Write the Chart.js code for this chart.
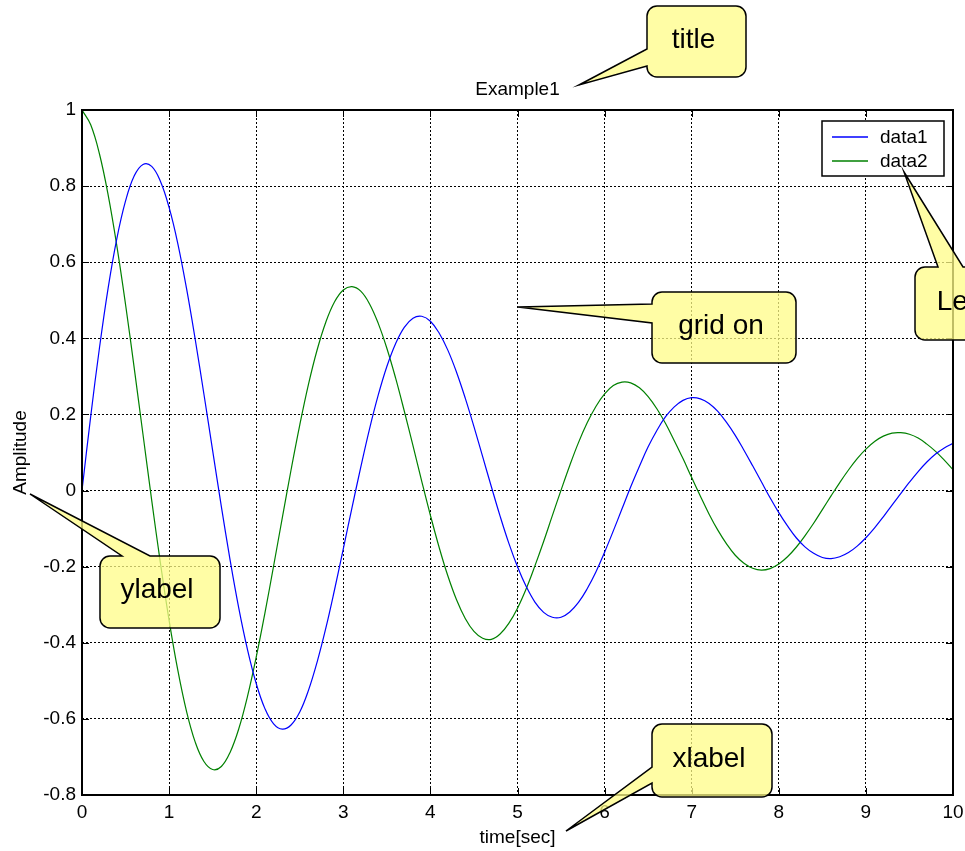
<!DOCTYPE html>
<html>
<head>
<meta charset="utf-8">
<title>Example1</title>
<script src="https://cdn.jsdelivr.net/npm/chart.js@4/dist/chart.umd.min.js"></script>
<style>
  html, body { margin: 0; padding: 0; background: #fff; }
  canvas { display: block; }
</style>
</head>
<body>
<canvas id="plot" width="965" height="851"></canvas>
<script>
const time = [
  0, 0.1, 0.2, 0.3, 0.4, 0.5, 0.6, 0.7, 0.8, 0.9,
  1, 1.1, 1.2, 1.3, 1.4, 1.5, 1.6, 1.7, 1.8, 1.9,
  2, 2.1, 2.2, 2.3, 2.4, 2.5, 2.6, 2.7, 2.8, 2.9,
  3, 3.1, 3.2, 3.3, 3.4, 3.5, 3.6, 3.7, 3.8, 3.9,
  4, 4.1, 4.2, 4.3, 4.4, 4.5, 4.6, 4.7, 4.8, 4.9,
  5, 5.1, 5.2, 5.3, 5.4, 5.5, 5.6, 5.7, 5.8, 5.9,
  6, 6.1, 6.2, 6.3, 6.4, 6.5, 6.6, 6.7, 6.8, 6.9,
  7, 7.1, 7.2, 7.3, 7.4, 7.5, 7.6, 7.7, 7.8, 7.9,
  8, 8.1, 8.2, 8.3, 8.4, 8.5, 8.6, 8.7, 8.8, 8.9,
  9, 9.1, 9.2, 9.3, 9.4, 9.5, 9.6, 9.7, 9.8, 9.9,
  10
];

const data1 = [
  0, 0.195, 0.374, 0.532, 0.662, 0.761, 0.827, 0.857, 0.852, 0.813,
  0.744, 0.649, 0.531, 0.397, 0.253, 0.105, -0.042, -0.182, -0.309, -0.418,
  -0.507, -0.573, -0.613, -0.627, -0.616, -0.582, -0.525, -0.450, -0.361, -0.260,
  -0.153, -0.045, 0.061, 0.161, 0.250, 0.326, 0.386, 0.429, 0.453, 0.458,
  0.445, 0.414, 0.369, 0.311, 0.243, 0.168, 0.089, 0.010, -0.067, -0.138,
  -0.200, -0.252, -0.293, -0.320, -0.333, -0.333, -0.319, -0.294, -0.258, -0.214,
  -0.162, -0.106, -0.048, 0.010, 0.064, 0.115, 0.158, 0.194, 0.220, 0.237,
  0.244, 0.241, 0.229, 0.208, 0.179, 0.145, 0.106, 0.065, 0.023, -0.019,
  -0.058, -0.093, -0.124, -0.148, -0.165, -0.176, -0.179, -0.174, -0.163, -0.146,
  -0.124, -0.098, -0.069, -0.038, -0.008, 0.022, 0.050, 0.075, 0.096, 0.112,
  0.124
];

const data2 = [
  1, 0.961, 0.885, 0.777, 0.643, 0.489, 0.321, 0.148, -0.025, -0.190,
  -0.341, -0.472, -0.580, -0.661, -0.712, -0.733, -0.725, -0.688, -0.626, -0.541,
  -0.438, -0.322, -0.198, -0.071, 0.054, 0.172, 0.279, 0.370, 0.443, 0.496,
  0.527, 0.536, 0.524, 0.491, 0.440, 0.374, 0.296, 0.209, 0.118, 0.025,
  -0.065, -0.149, -0.224, -0.287, -0.336, -0.370, -0.388, -0.391, -0.377, -0.349,
  -0.309, -0.258, -0.198, -0.134, -0.066, 0.001, 0.066, 0.126, 0.178, 0.221,
  0.254, 0.276, 0.285, 0.283, 0.270, 0.247, 0.215, 0.176, 0.131, 0.084,
  0.034, -0.015, -0.062, -0.104, -0.140, -0.170, -0.191, -0.204, -0.209, -0.205,
  -0.193, -0.174, -0.149, -0.119, -0.086, -0.050, -0.014, 0.021, 0.054, 0.084,
  0.109, 0.129, 0.143, 0.151, 0.152, 0.148, 0.138, 0.122, 0.103, 0.080,
  0.055
];

const seriesNames = ['data1', 'data2'];
const xTicks = [0, 1, 2, 3, 4, 5, 6, 7, 8, 9, 10];
const xTickLabels = ['0', '1', '2', '3', '4', '5', '6', '7', '8', '9', '10'];
const yTicks = [-0.8, -0.6, -0.4, -0.2, 0, 0.2, 0.4, 0.6, 0.8, 1];
const yTickLabels = ['-0.8', '-0.6', '-0.4', '-0.2', '0', '0.2', '0.4', '0.6', '0.8', '1'];

// yellow speech bubbles pasted on top of the figure
const callouts = [
  { text: 'title',   x: 647, y: 6,   w: 99,  h: 71, side: 'left', a: 43, b: 60, tx: 579, ty: 85 },
  { text: 'grid on', x: 652, y: 292, w: 144, h: 71, side: 'left', a: 12, b: 31, tx: 518, ty: 307 },
  { text: 'ylabel',  x: 100, y: 556, w: 120, h: 72, side: 'top',  a: 22, b: 50, tx: 30,  ty: 494 },
  { text: 'xlabel',  x: 652, y: 724, w: 120, h: 73, side: 'left', a: 43, b: 59, tx: 566, ty: 831 },
  { text: 'Legend',  x: 915, y: 267, w: 143, h: 73, side: 'top',  a: 23, b: 48, tx: 904, ty: 172 }
];

const FONT = '"Liberation Sans", Arial, Helvetica, sans-serif';
Chart.defaults.font.family = FONT;
Chart.defaults.color = '#000';

function bubblePath(ctx, c) {
  const r = 10;
  const { x, y, w, h } = c;
  ctx.beginPath();
  ctx.moveTo(x + r, y);
  if (c.side === 'top') {
    ctx.lineTo(x + c.a, y);
    ctx.lineTo(c.tx, c.ty);
    ctx.lineTo(x + c.b, y);
  }
  ctx.lineTo(x + w - r, y);
  ctx.arcTo(x + w, y, x + w, y + r, r);
  ctx.lineTo(x + w, y + h - r);
  ctx.arcTo(x + w, y + h, x + w - r, y + h, r);
  ctx.lineTo(x + r, y + h);
  ctx.arcTo(x, y + h, x, y + h - r, r);
  if (c.side === 'left') {
    ctx.lineTo(x, y + c.b);
    ctx.lineTo(c.tx, c.ty);
    ctx.lineTo(x, y + c.a);
  }
  ctx.lineTo(x, y + r);
  ctx.arcTo(x, y, x + r, y, r);
  ctx.closePath();
}

const matlabFrame = {
  id: 'matlabFrame',
  afterLayout(chart) {
    // centre the title over the axes, like matlab does
    if (chart.titleBlock) {
      chart.titleBlock.left = chart.chartArea.left;
      chart.titleBlock.right = chart.chartArea.right;
    }
  },
  afterDatasetsDraw(chart) {
    const { ctx, chartArea: area, scales } = chart;
    const L = area.left, R = area.right, T = area.top, B = area.bottom;
    ctx.save();

    // inward tick marks on all four sides
    ctx.strokeStyle = '#000';
    ctx.lineWidth = 1;
    ctx.beginPath();
    xTicks.forEach(v => {
      const px = Math.round(scales.x.getPixelForValue(v)) + 0.5;
      ctx.moveTo(px, B); ctx.lineTo(px, B - 7);
      ctx.moveTo(px, T); ctx.lineTo(px, T + 7);
    });
    yTicks.forEach(v => {
      const py = Math.round(scales.y.getPixelForValue(v)) + 0.5;
      ctx.moveTo(L, py); ctx.lineTo(L + 7, py);
      ctx.moveTo(R, py); ctx.lineTo(R - 7, py);
    });
    ctx.stroke();

    // axes box
    ctx.lineWidth = 2;
    ctx.strokeRect(L, T, R - L, B - T);

    // legend box, top right inside the axes
    const lx = 822, ly = 121, lw = 122, lh = 55;
    ctx.fillStyle = '#fff';
    ctx.fillRect(lx, ly, lw, lh);
    ctx.strokeStyle = '#000';
    ctx.lineWidth = 1.5;
    ctx.strokeRect(lx, ly, lw, lh);
    ctx.font = '19px ' + FONT;
    ctx.textBaseline = 'middle';
    ctx.textAlign = 'left';
    chart.data.datasets.forEach((ds, i) => {
      const yy = ly + 16 + i * 24;
      ctx.strokeStyle = ds.borderColor;
      ctx.lineWidth = 1.5;
      ctx.beginPath();
      ctx.moveTo(lx + 10, yy);
      ctx.lineTo(lx + 46, yy);
      ctx.stroke();
      ctx.fillStyle = '#000';
      ctx.fillText(ds.label, lx + 58, yy + 1);
    });
    ctx.restore();
  },
  afterDraw(chart) {
    const ctx = chart.ctx;
    ctx.save();
    callouts.forEach(c => {
      bubblePath(ctx, c);
      ctx.fillStyle = 'rgba(255, 252, 135, 0.75)';
      ctx.fill();
      ctx.strokeStyle = '#000';
      ctx.lineWidth = 1.5;
      ctx.lineJoin = 'miter';
      ctx.stroke();
      ctx.fillStyle = '#000';
      ctx.font = '28px ' + FONT;
      ctx.textAlign = 'center';
      ctx.textBaseline = 'alphabetic';
      ctx.fillText(c.text, c.x + c.w / 2 - 3, c.y + c.h / 2 + 6);
    });
    ctx.restore();
  }
};

const ctx = document.getElementById('plot').getContext('2d');
new Chart(ctx, {
  type: 'line',
  data: {
    datasets: [
      {
        label: seriesNames[0],
        data: time.map((t, i) => ({ x: t, y: data1[i] })),
        borderColor: '#0000ff',
        borderWidth: 1.2,
        pointRadius: 0,
        tension: 0.4,
        fill: false
      },
      {
        label: seriesNames[1],
        data: time.map((t, i) => ({ x: t, y: data2[i] })),
        borderColor: '#008000',
        borderWidth: 1.2,
        pointRadius: 0,
        tension: 0.4,
        fill: false
      }
    ]
  },
  options: {
    responsive: false,
    animation: false,
    devicePixelRatio: 1,
    layout: { padding: { left: 0, right: 12, top: 0, bottom: 0 } },
    plugins: {
      legend: { display: false },
      tooltip: { enabled: false },
      title: {
        display: true,
        text: 'Example1',
        color: '#000',
        font: { size: 19, weight: 'normal' },
        padding: { top: 78, bottom: 9.2 }
      }
    },
    scales: {
      x: {
        type: 'linear',
        min: 0,
        max: 10,
        afterFit(scale) {
          scale.height = 56;
          scale.paddingLeft = 0;
          scale.paddingRight = 0;
        },
        afterBuildTicks(scale) { scale.ticks = xTicks.map(v => ({ value: v })); },
        ticks: {
          autoSkip: false,
          maxRotation: 0,
          padding: 6,
          color: '#000',
          font: { size: 19 },
          callback: (v, i) => xTickLabels[i]
        },
        grid: { color: '#000', lineWidth: 1, drawTicks: false },
        border: { display: false, dash: [2, 2] },
        title: {
          display: true,
          text: 'time[sec]',
          color: '#000',
          font: { size: 19 },
          padding: { top: 0, bottom: 2 }
        }
      },
      y: {
        min: -0.8,
        max: 1,
        afterFit(scale) {
          scale.width = 82;
          scale.paddingTop = 0;
          scale.paddingBottom = 0;
        },
        afterBuildTicks(scale) { scale.ticks = yTicks.map(v => ({ value: v })); },
        ticks: {
          autoSkip: false,
          padding: 6,
          color: '#000',
          font: { size: 19 },
          callback: (v, i) => yTickLabels[i]
        },
        grid: { color: '#000', lineWidth: 1, drawTicks: false },
        border: { display: false, dash: [2, 2] },
        title: {
          display: true,
          text: 'Amplitude',
          color: '#000',
          font: { size: 19 },
          padding: { top: 9, bottom: 0 }
        }
      }
    }
  },
  plugins: [matlabFrame]
});
</script>
</body>
</html>
